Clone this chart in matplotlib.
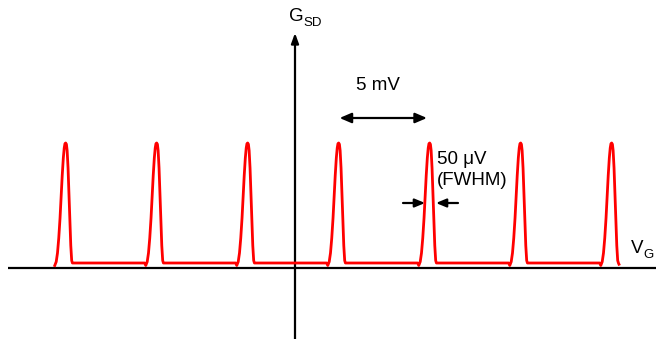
import numpy as np
import matplotlib
matplotlib.use("Agg")
import matplotlib.pyplot as plt

plt.rcParams['font.family'] = ['Liberation Sans', 'DejaVu Sans']

# ---- data (schematic Coulomb-blockade peaks) ----
peak_centers_mV = [-12.6, -7.6, -2.6, 2.4, 7.4, 12.4, 17.4]   # peak positions (mV)
peak_height = 1.0                                              # normalised G_SD peak
baseline_G = 0.04                                              # conductance between peaks
# single-peak profile (offset in mV, G relative to peak)
profile_dx = [-0.66, -0.60, -0.52, -0.45, -0.38, -0.31, -0.25, -0.19, -0.13, -0.08, -0.04, 0.0,
              0.04, 0.08, 0.13, 0.18, 0.23, 0.28, 0.33, 0.37, 0.40]
profile_G = [0.04, 0.02, 0.05, 0.12, 0.24, 0.40, 0.57, 0.74, 0.88, 0.96, 0.995, 1.0,
             0.99, 0.94, 0.80, 0.60, 0.38, 0.18, 0.06, 0.04, 0.04]
spacing_label = "5 mV"
fwhm_label = "50 \u03bcV\n(FWHM)"

# ---- build curve ----
xs, ys = [], []
for i, c in enumerate(peak_centers_mV):
    for j, (dx, g) in enumerate(zip(profile_dx, profile_G)):
        if i == 0 and j == 0:
            continue
        xs.append(c + dx)
        ys.append(g * peak_height)
# last peak: right foot drops to axis level slightly
ys[-1] = 0.03

# ---- figure: axes fill the whole figure; 18.2 px per mV, 125 px per G unit ----
W, H = 664, 339
fig = plt.figure(figsize=(W / 100, H / 100), dpi=100)
ax = fig.add_axes([0, 0, 1, 1])
x0px, y0px = 295, 268
sx, sy = 18.2, 125.0
ax.set_xlim((0 - x0px) / sx, (W - x0px) / sx)
ax.set_ylim(-(H - y0px) / sy, y0px / sy)
ax.axis('off')

def px(xp):
    return (xp - x0px) / sx

def py(yp):
    return (y0px - yp) / sy

# axes lines
ax.plot([px(8), px(656)], [0, 0], color='black', lw=1.6, solid_capstyle='butt', zorder=2)
ax.annotate('', xy=(0, py(33)), xytext=(0, py(340)),
            arrowprops=dict(arrowstyle='-|>,head_length=0.6,head_width=0.22',
                            color='black', lw=1.6, shrinkA=0, shrinkB=0))

# red peaks
ax.plot(xs, ys, color='#ff0000', lw=2.0, solid_joinstyle='round', zorder=3)

# labels
ax.text(px(288.5), py(16.5), 'G', fontsize=13.5, ha='left', va='center')
ax.text(px(303), py(23.5), 'SD', fontsize=9.5, ha='left', va='center')
ax.text(px(631), py(248.5), 'V', fontsize=13.5, ha='left', va='center')
ax.text(px(643.5), py(254.5), 'G', fontsize=9.5, ha='left', va='center')

# 5 mV spacing arrow
ax.annotate('', xy=(peak_centers_mV[3] + 0.05, py(118)), xytext=(peak_centers_mV[4] - 0.15, py(118)),
            arrowprops=dict(arrowstyle='<|-|>,head_length=0.7,head_width=0.3',
                            color='black', lw=1.6, shrinkA=0, shrinkB=0))
ax.text(px(378), py(86), spacing_label, fontsize=13.5, ha='center', va='center')

# FWHM arrows
ax.annotate('', xy=(px(425), py(203)), xytext=(px(403), py(203)),
            arrowprops=dict(arrowstyle='-|>,head_length=0.6,head_width=0.25',
                            color='black', lw=1.6, shrinkA=0, shrinkB=0))
ax.annotate('', xy=(px(436), py(203)), xytext=(px(458), py(203)),
            arrowprops=dict(arrowstyle='-|>,head_length=0.6,head_width=0.25',
                            color='black', lw=1.6, shrinkA=0, shrinkB=0))
ax.text(px(437), py(170), fwhm_label, fontsize=13.5, ha='left', va='center', linespacing=1.28)

fig.savefig('out.png', dpi=100)
